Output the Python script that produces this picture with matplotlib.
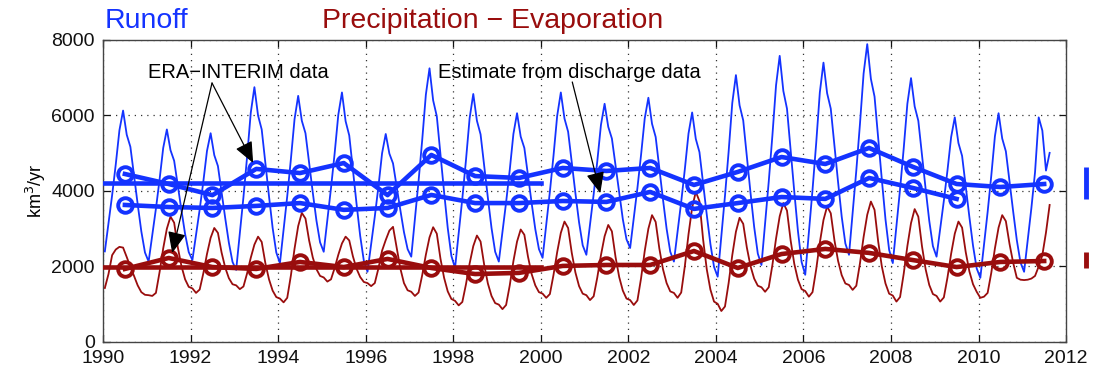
import matplotlib
matplotlib.use("Agg")
import matplotlib.pyplot as plt
import numpy as np

plt.rcParams['font.family'] = ['Liberation Sans', 'DejaVu Sans']

# ---------------- data (km^3/yr) ----------------
first_year = 1990

# Monthly runoff, one row per year (Jan..Dec); 2011 ends in August
runoff_monthly = [
    [2400, 3150, 3890, 4710, 5610, 6130, 5490, 5170, 4410, 3650, 2930, 2370],
    [2130, 2830, 3530, 4300, 5140, 5630, 5080, 4800, 4140, 3490, 2860, 2380],
    [2170, 2840, 3510, 4250, 5060, 5530, 4950, 4660, 3970, 3280, 2630, 2120],
    [1910, 2880, 3840, 4910, 6070, 6750, 6000, 5630, 4750, 3860, 3020, 2370],
    [2090, 2980, 3860, 4840, 5900, 6520, 5860, 5530, 4740, 3960, 3220, 2640],
    [2390, 3240, 4080, 5000, 6020, 6610, 5850, 5470, 4570, 3660, 2810, 2150],
    [1860, 2590, 3320, 4120, 5000, 5510, 4990, 4730, 4110, 3500, 2910, 2460],
    [2260, 3260, 4260, 5350, 6550, 7250, 6400, 5980, 4980, 3970, 3020, 2280],
    [1960, 2880, 3800, 4820, 5930, 6570, 5860, 5500, 4660, 3820, 3020, 2390],
    [2130, 2910, 3700, 4560, 5510, 6060, 5440, 5140, 4410, 3680, 2990, 2460],
    [2230, 3100, 3980, 4940, 5990, 6610, 5920, 5570, 4760, 3940, 3170, 2560],
    [2310, 3110, 3910, 4790, 5750, 6310, 5700, 5390, 4670, 3940, 3250, 2720],
    [2490, 3290, 4080, 4960, 5920, 6470, 5780, 5430, 4600, 3780, 3000, 2390],
    [2130, 2920, 3710, 4580, 5520, 6080, 5380, 5030, 4210, 3380, 2600, 1990],
    [1730, 2800, 3870, 5040, 6330, 7070, 6270, 5870, 4910, 3950, 3050, 2340],
    [2040, 3150, 4250, 5470, 6800, 7580, 6650, 6180, 5080, 3980, 2940, 2120],
    [1780, 2900, 4030, 5260, 6610, 7400, 6590, 6180, 5210, 4240, 3320, 2610],
    [2310, 3420, 4540, 5770, 7110, 7890, 6970, 6500, 5400, 4300, 3250, 2440],
    [2090, 3070, 4050, 5130, 6310, 6990, 6240, 5860, 4960, 4060, 3210, 2540],
    [2260, 3000, 3740, 4550, 5430, 5950, 5270, 4930, 4120, 3310, 2550, 1950],
    [1700, 2570, 3440, 4400, 5450, 6060, 5390, 5050, 4250, 3460, 2700, 2110],
    [1860, 2700, 3550, 4500, 5950, 5600, 4540, 5010],
]

# Monthly precipitation minus evaporation, one row per year
pe_monthly = [
    [1430, 1800, 2300, 2450, 2520, 2500, 2250, 1990, 1750, 1500, 1320, 1250],
    [1240, 1220, 1300, 1850, 2480, 3000, 3320, 3160, 2510, 2010, 1660, 1460],
    [1420, 1300, 1390, 1820, 2330, 2760, 3020, 2890, 2370, 1970, 1690, 1530],
    [1500, 1400, 1470, 1820, 2230, 2580, 2790, 2650, 2090, 1660, 1360, 1190],
    [1150, 1050, 1170, 1760, 2470, 3070, 3420, 3270, 2690, 2240, 1930, 1750],
    [1710, 1600, 1660, 1960, 2310, 2610, 2790, 2690, 2270, 1940, 1720, 1590],
    [1560, 1480, 1560, 1950, 2420, 2700, 2950, 3050, 2500, 1950, 1560, 1370],
    [1330, 1220, 1310, 1770, 2310, 2770, 3040, 2870, 2210, 1700, 1340, 1140],
    [1090, 970, 1060, 1530, 2080, 2540, 2820, 2660, 2040, 1550, 1220, 1030],
    [990, 870, 980, 1500, 2140, 2660, 2980, 2840, 2260, 1800, 1500, 1320],
    [1280, 1170, 1270, 1780, 2380, 2890, 3190, 3020, 2360, 1840, 1480, 1280],
    [1240, 1110, 1210, 1710, 2300, 2800, 3100, 2930, 2250, 1720, 1360, 1150],
    [1110, 980, 1100, 1690, 2410, 3000, 3360, 3180, 2480, 1930, 1560, 1340],
    [1300, 1170, 1310, 2010, 2850, 3560, 3980, 3730, 2720, 1930, 1390, 1070],
    [1010, 820, 940, 1560, 2300, 2920, 3290, 3130, 2500, 2010, 1680, 1490],
    [1450, 1330, 1450, 2040, 2740, 3330, 3680, 3480, 2690, 2070, 1650, 1400],
    [1350, 1200, 1320, 1920, 2630, 3230, 3590, 3410, 2700, 2150, 1770, 1550],
    [1510, 1380, 1490, 2080, 2780, 3370, 3720, 3500, 2660, 2000, 1550, 1280],
    [1230, 1070, 1190, 1810, 2540, 3150, 3520, 3320, 2540, 1930, 1510, 1270],
    [1220, 1070, 1180, 1710, 2340, 2870, 3190, 3030, 2380, 1870, 1530, 1330],
    [1170, 1200, 1300, 1830, 2480, 3030, 3360, 3200, 2600, 2100, 1700, 1650],
    [1640, 1650, 1680, 1750, 2000, 2300, 2900, 3630],
]

# Annual means (plotted at mid-year)
era_years = list(range(1990, 2012))
runoff_era_annual = [4450, 4185, 3890, 4585, 4475, 4740, 3890, 4955, 4395, 4345,
                     4610, 4530, 4610, 4160, 4505, 4900, 4715, 5140, 4640, 4185,
                     4105, 4185]
pe_era_annual = [1935, 2225, 1985, 1935, 2120, 1985, 2200, 1960, 1800, 1830,
                 2015, 2040, 2040, 2410, 1960, 2330, 2465, 2360, 2170, 1985,
                 2120, 2145]
discharge_years = list(range(1990, 2010))
runoff_discharge_annual = [3630, 3575, 3550, 3605, 3680, 3500, 3550, 3895, 3680, 3680,
                           3735, 3710, 3975, 3525, 3680, 3840, 3790, 4345, 4080, 3790]

# 1990-2000 mean levels
baseline_span = [1990, 2000]
runoff_baseline = 4200
pe_baseline = 1990

# Ranges shown beside the axes
runoff_range = [3800, 4630]
pe_range = [1960, 2380]

BLUE = '#1433ff'
RED = '#990d0d'


def monthly_times(rows):
    t, v = [], []
    for i, row in enumerate(rows):
        for m, val in enumerate(row):
            t.append(first_year + i + (m + 0.5) / 12.0)
            v.append(val)
    return np.array(t), np.array(v)


fig = plt.figure(figsize=(11.03, 3.74), dpi=100)
ax = fig.add_axes([0.0934, 0.0856, 0.8731, 0.8075])

tr, vr = monthly_times(runoff_monthly)
tp, vp = monthly_times(pe_monthly)
ax.plot(tr, vr, color=BLUE, lw=1.3, zorder=3)
ax.plot(tp, vp, color=RED, lw=1.3, zorder=3)

thick = dict(lw=3.3, marker='o', markersize=10.5, mfc='none', mew=2.8, zorder=4)
ax.plot(baseline_span, [runoff_baseline] * 2, color=BLUE, lw=3.3, zorder=4)
ax.plot(baseline_span, [pe_baseline] * 2, color=RED, lw=3.3, zorder=4)
ax.plot(np.array(era_years) + 0.5, runoff_era_annual, color=BLUE, **thick)
ax.plot(np.array(discharge_years) + 0.5, runoff_discharge_annual, color=BLUE, **thick)
ax.plot(np.array(era_years) + 0.5, pe_era_annual, color=RED, **thick)

# Range bars outside the right edge
ax.plot([2012.45, 2012.45], runoff_range, color=BLUE, lw=3.5, clip_on=False,
        solid_capstyle='butt', zorder=5)
ax.plot([2012.45, 2012.45], pe_range, color=RED, lw=3.5, clip_on=False,
        solid_capstyle='butt', zorder=5)

ax.set_xlim(1990, 2012)
ax.set_ylim(0, 8000)
ax.set_xticks(np.arange(1990, 2013, 2))
ax.set_yticks(np.arange(0, 8001, 2000))
ax.tick_params(direction='in', length=5, width=0.9, top=True, right=True,
               labelsize=14, pad=6, colors='#111111')
ax.grid(True, linestyle=(0, (1, 4)), color='#333333', lw=0.9)
for s in ax.spines.values():
    s.set_color('#444444')
    s.set_linewidth(1.0)
ax.set_ylabel('km$^3$/yr', fontsize=13, labelpad=2)

arrow = dict(arrowstyle='-|>,head_length=0.65,head_width=0.28', color='black',
             lw=0.9, mutation_scale=20, shrinkA=0, shrinkB=0)
ax.text(1991.03, 7150, 'ERA\u2212INTERIM data', fontsize=14.5, ha='left',
        va='center', zorder=6)
ax.annotate('', xy=(1993.43, 4742), xytext=(1992.49, 6860), arrowprops=arrow, zorder=6)
ax.annotate('', xy=(1991.58, 2358), xytext=(1992.49, 6860), arrowprops=arrow, zorder=6)
ax.text(1997.65, 7150, 'Estimate from discharge data', fontsize=14.5, ha='left',
        va='center', zorder=6)
ax.annotate('', xy=(2001.36, 3940), xytext=(2000.72, 6887), arrowprops=arrow, zorder=6)

fig.text(0.095, 0.945, 'Runoff', color=BLUE, fontsize=20.5, ha='left', va='center')
fig.text(0.292, 0.945, 'Precipitation \u2212 Evaporation', color=RED, fontsize=20.5,
         ha='left', va='center')

fig.savefig('out.png', dpi=100)
